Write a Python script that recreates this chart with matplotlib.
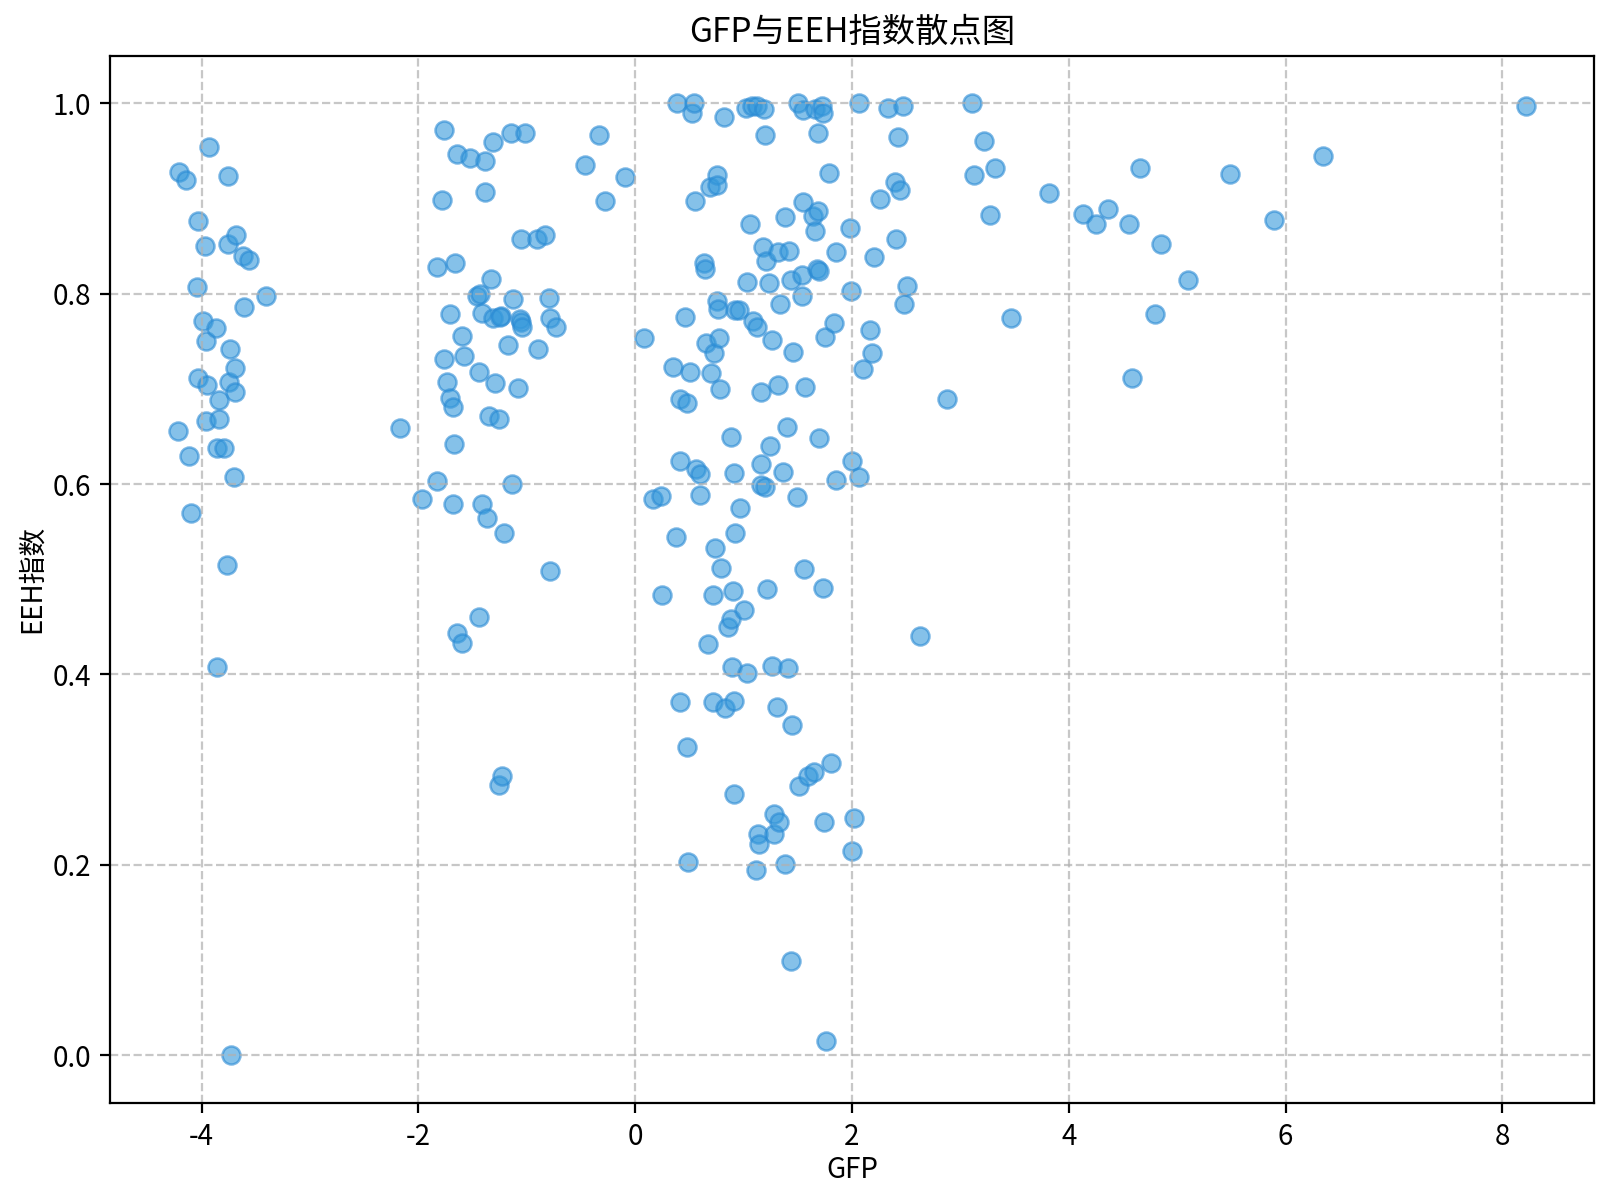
import matplotlib
matplotlib.use("Agg")
import matplotlib.pyplot as plt

plt.rcParams['font.family'] = ['Noto Sans CJK SC', 'DejaVu Sans']
plt.rcParams['axes.unicode_minus'] = False

# left group
gfp_left = [-4.22, -4.21, -4.14, -4.12, -4.10, -4.03, -4.04, -4.03, -3.99, -3.97,
            -3.96, -3.95, -3.96, -3.93, -3.87, -3.86, -3.86, -3.84, -3.84, -3.79,
            -3.76, -3.76, -3.77, -3.75, -3.74, -3.73, -3.70, -3.69, -3.69, -3.68,
            -3.62, -3.61, -3.56, -3.41]
eeh_left = [0.656, 0.928, 0.920, 0.630, 0.570, 0.876, 0.807, 0.711, 0.771, 0.850,
            0.750, 0.704, 0.666, 0.954, 0.764, 0.638, 0.408, 0.668, 0.688, 0.638,
            0.924, 0.852, 0.515, 0.707, 0.742, 0.000, 0.607, 0.722, 0.697, 0.862,
            0.840, 0.786, 0.835, 0.798]

# middle-left group
gfp_mid = [-2.17, -1.97, -1.83, -1.83, -1.78, -1.76, -1.76, -1.74, -1.71, -1.71,
           -1.68, -1.68, -1.66, -1.67, -1.64, -1.64, -1.60, -1.60, -1.58, -1.52,
           -1.46, -1.43, -1.44, -1.44, -1.41, -1.41, -1.39, -1.39, -1.37, -1.35,
           -1.33, -1.31, -1.31, -1.29, -1.26, -1.26, -1.24, -1.25, -1.23, -1.21,
           -1.17, -1.15, -1.14, -1.13, -1.08, -1.06, -1.05, -1.05, -1.04, -1.02,
           -0.91, -0.90, -0.83, -0.80, -0.79, -0.79, -0.73]
eeh_mid = [0.659, 0.584, 0.603, 0.828, 0.899, 0.972, 0.731, 0.707, 0.779, 0.690,
           0.681, 0.579, 0.832, 0.642, 0.947, 0.444, 0.756, 0.433, 0.735, 0.943,
           0.798, 0.800, 0.718, 0.460, 0.780, 0.579, 0.939, 0.907, 0.564, 0.672,
           0.815, 0.959, 0.775, 0.706, 0.668, 0.284, 0.777, 0.776, 0.293, 0.549,
           0.746, 0.969, 0.600, 0.794, 0.701, 0.773, 0.857, 0.770, 0.765, 0.969,
           0.858, 0.742, 0.862, 0.795, 0.509, 0.775, 0.765]

# central group
gfp_center = [-0.46, -0.33, -0.28, -0.09, 0.08,
              0.16, 0.24, 0.25, 0.35, 0.38, 0.39, 0.41, 0.41, 0.41, 0.46,
              0.48, 0.48, 0.49, 0.51, 0.52, 0.54, 0.55, 0.56, 0.60, 0.60,
              0.63, 0.64, 0.65, 0.67, 0.69, 0.70, 0.72, 0.72, 0.73, 0.74,
              0.75, 0.75, 0.75, 0.76, 0.77, 0.78, 0.79, 0.82, 0.83, 0.86,
              0.88, 0.88, 0.89, 0.90, 0.91, 0.91, 0.91, 0.92, 0.92, 0.96,
              0.97, 1.00, 1.02, 1.03, 1.03, 1.06, 1.08, 1.09, 1.11, 1.12,
              1.12, 1.13, 1.14, 1.16, 1.16, 1.16, 1.18, 1.19, 1.20, 1.20,
              1.21, 1.22, 1.23, 1.24, 1.26, 1.26, 1.28, 1.28, 1.31, 1.32,
              1.32, 1.33, 1.34, 1.36, 1.38, 1.38, 1.40, 1.41, 1.42, 1.44,
              1.44, 1.45, 1.46, 1.49, 1.50, 1.51, 1.54, 1.54, 1.55, 1.55,
              1.56, 1.57, 1.59, 1.64, 1.65, 1.66, 1.66, 1.68, 1.69, 1.69,
              1.70, 1.70, 1.72, 1.73, 1.73, 1.74, 1.75, 1.76, 1.79, 1.81,
              1.83, 1.85, 1.85, 1.98, 1.99, 2.00, 2.00, 2.02, 2.06, 2.06,
              2.10, 2.17, 2.18, 2.20, 2.26, 2.33, 2.40, 2.41, 2.42, 2.44,
              2.47, 2.48, 2.51, 2.63]
eeh_center = [0.935, 0.967, 0.897, 0.923, 0.754,
              0.584, 0.588, 0.483, 0.723, 0.544, 1.000, 0.689, 0.371, 0.624, 0.776,
              0.685, 0.324, 0.203, 0.718, 0.990, 1.000, 0.897, 0.616, 0.611, 0.589,
              0.832, 0.826, 0.748, 0.432, 0.912, 0.717, 0.483, 0.371, 0.738, 0.533,
              0.925, 0.914, 0.792, 0.784, 0.753, 0.700, 0.512, 0.986, 0.365, 0.450,
              0.649, 0.458, 0.408, 0.488, 0.612, 0.372, 0.274, 0.549, 0.783, 0.783,
              0.575, 0.468, 0.995, 0.402, 0.812, 0.873, 0.997, 0.771, 0.195, 0.997,
              0.765, 0.232, 0.222, 0.599, 0.621, 0.697, 0.849, 0.994, 0.597, 0.967,
              0.834, 0.490, 0.811, 0.640, 0.751, 0.409, 0.253, 0.232, 0.366, 0.844,
              0.704, 0.245, 0.789, 0.613, 0.881, 0.201, 0.660, 0.407, 0.845, 0.814,
              0.099, 0.347, 0.739, 0.586, 1.000, 0.283, 0.820, 0.798, 0.993, 0.896,
              0.511, 0.702, 0.293, 0.882, 0.298, 0.994, 0.866, 0.826, 0.969, 0.887,
              0.824, 0.648, 0.997, 0.990, 0.491, 0.245, 0.755, 0.015, 0.927, 0.307,
              0.769, 0.844, 0.604, 0.869, 0.803, 0.624, 0.215, 0.249, 0.607, 1.000,
              0.721, 0.762, 0.738, 0.839, 0.900, 0.995, 0.917, 0.857, 0.965, 0.909,
              0.997, 0.789, 0.808, 0.440]

# right group
gfp_right = [2.88, 3.11, 3.13, 3.22, 3.27, 3.32, 3.47, 3.82, 4.13, 4.25,
             4.36, 4.56, 4.58, 4.66, 4.80, 4.85, 5.10, 5.49, 5.89, 6.35, 8.22]
eeh_right = [0.689, 1.000, 0.925, 0.960, 0.883, 0.932, 0.775, 0.906, 0.884, 0.873,
             0.889, 0.873, 0.711, 0.932, 0.779, 0.852, 0.814, 0.926, 0.877, 0.945, 0.997]

gfp = gfp_left + gfp_mid + gfp_center + gfp_right
eeh = eeh_left + eeh_mid + eeh_center + eeh_right

fig, ax = plt.subplots(figsize=(8, 5.935), dpi=200)
ax.scatter(gfp, eeh, s=42, c='#3498db', alpha=0.6, edgecolors='#2a8ad4', linewidths=0.9)
ax.set_title('GFP与EEH指数散点图', fontsize=12, pad=5)
ax.set_xlabel('GFP', fontsize=10, labelpad=1)
ax.set_ylabel('EEH指数', fontsize=10, labelpad=2)
ax.tick_params(labelsize=10)
ax.grid(True, linestyle='--', color='#b0b0b0', alpha=0.7)
fig.subplots_adjust(left=0.069, right=0.996, top=0.953, bottom=0.071)
fig.savefig('out.png', dpi=200)
